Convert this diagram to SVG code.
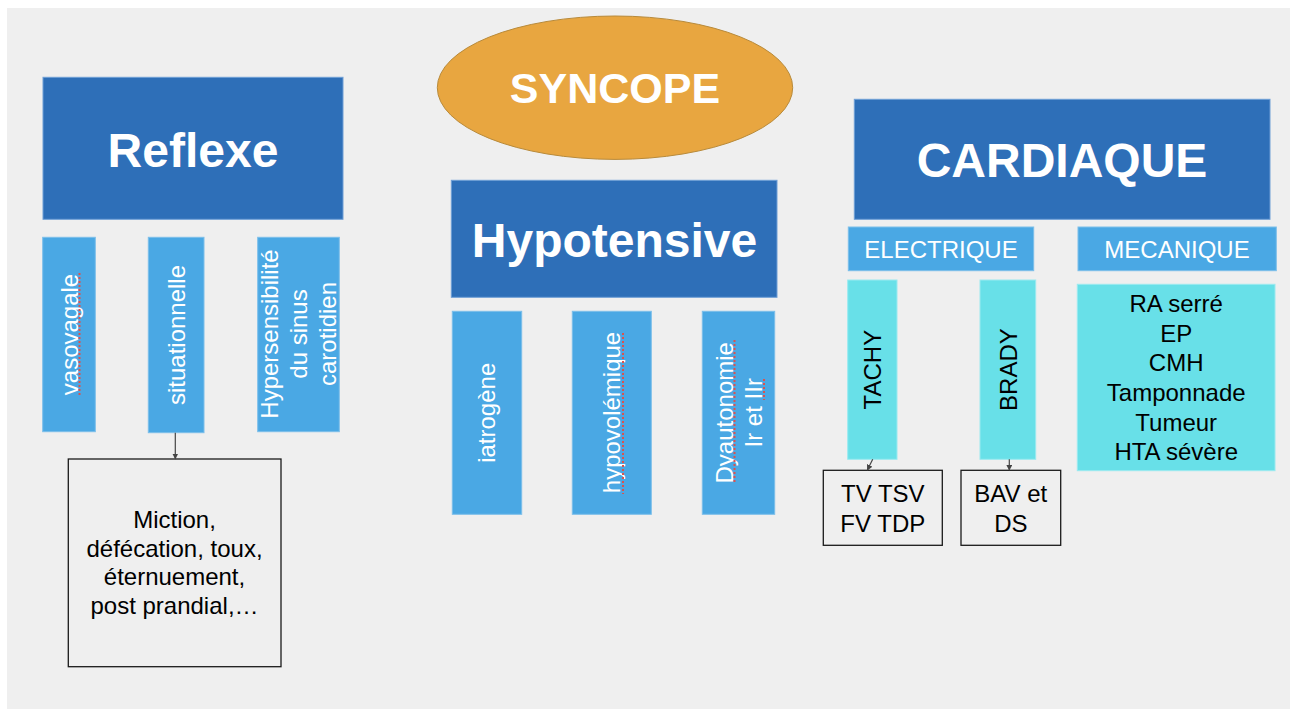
<svg xmlns="http://www.w3.org/2000/svg" width="1290" height="709" viewBox="0 0 1290 709">
<defs>
<style>
.dark{fill:#2e6fb8;stroke:#6f9fd6;stroke-width:1}
.mid{fill:#4aa8e4;stroke:#7cbfea;stroke-width:1}
.cyan{fill:#68e0e8;stroke:#9aeaf0;stroke-width:1}
.plain{fill:#efefef;stroke:#1a1a1a;stroke-width:1.3}
text{font-family:"Liberation Sans",Arial,sans-serif}
.big{font-size:48px;font-weight:bold;fill:#fff;text-anchor:middle}
.w24{font-size:24px;fill:#fff;text-anchor:middle}
.b24{font-size:24px;fill:#000;text-anchor:middle}
.conn{stroke:#444;stroke-width:1.2;fill:none}
.sq{stroke:#d9534f;stroke-width:2;stroke-dasharray:2 2;fill:none}
</style>
<marker id="arr" markerWidth="6" markerHeight="6" refX="5" refY="3" orient="auto" markerUnits="userSpaceOnUse">
<path d="M0,0 L6,3 L0,6 z" fill="#444"/>
</marker>
</defs>
<rect x="0" y="0" width="1290" height="709" fill="#ffffff"/>
<rect x="7" y="8" width="1283" height="701" fill="#efefef"/>

<g id="syncope">
<ellipse cx="615" cy="87.7" rx="177.7" ry="71.7" fill="#e8a640" stroke="#b88a3a" stroke-width="1"/>
<text x="615" y="103.3" style="font-size:43px;font-weight:bold;fill:#fff;text-anchor:middle">SYNCOPE</text>
</g>

<g id="reflexe">
<rect class="dark" x="43" y="77.3" width="300" height="142"/>
<text class="big" x="193" y="166.7">Reflexe</text>
</g>
<g id="vasovagale">
<rect class="mid" x="42.7" y="237.3" width="52.6" height="194.4"/>
<text class="w24" transform="translate(78,334.5) rotate(-90)">vasovagale</text>
<line class="sq" x1="79.5" y1="273" x2="79.5" y2="396"/>
</g>
<g id="situationnelle">
<rect class="mid" x="148.3" y="237.3" width="55.7" height="195.4"/>
<text class="w24" transform="translate(184.5,335) rotate(-90)">situationnelle</text>
</g>
<g id="hypersensibilite">
<rect class="mid" x="257.7" y="237.3" width="81.6" height="194.4"/>
<text class="w24" transform="translate(278,334) rotate(-90)">Hypersensibilité</text>
<text class="w24" transform="translate(307,334) rotate(-90)">du sinus</text>
<text class="w24" transform="translate(336,334) rotate(-90)">carotidien</text>
</g>
<g id="miction">
<rect class="plain" x="68.3" y="459" width="212.7" height="207.7"/>
<text class="b24" x="174.5" y="528.3">Miction,</text>
<text class="b24" x="174.5" y="556.8">défécation, toux,</text>
<text class="b24" x="174.5" y="585.2">éternuement,</text>
<text class="b24" x="174.5" y="613.6">post prandial,…</text>
</g>

<g id="hypotensive">
<rect class="dark" x="451.3" y="180.3" width="325.7" height="117"/>
<text class="big" x="614.5" y="257.3">Hypotensive</text>
</g>
<g id="iatrogene">
<rect class="mid" x="452.3" y="311.3" width="69.4" height="203"/>
<text class="w24" transform="translate(495,412.8) rotate(-90)">iatrogène</text>
</g>
<g id="hypovolemique">
<rect class="mid" x="572.3" y="311.3" width="79" height="203"/>
<text class="w24" transform="translate(620,412.5) rotate(-90)">hypovolémique</text>
<line class="sq" x1="623" y1="333" x2="623" y2="494"/>
</g>
<g id="dyautonomie">
<rect class="mid" x="702.3" y="311.3" width="72.4" height="203"/>
<text class="w24" transform="translate(733,412.8) rotate(-90)">Dyautonomie</text>
<text class="w24" transform="translate(762,412.8) rotate(-90)">Ir et IIr</text>
<line class="sq" x1="734.5" y1="340" x2="734.5" y2="483"/>
<line class="sq" x1="764" y1="379" x2="764" y2="400"/>
</g>

<g id="cardiaque">
<rect class="dark" x="854.3" y="99.3" width="415.7" height="120"/>
<text class="big" x="1062" y="177.3">CARDIAQUE</text>
</g>
<g id="electrique">
<rect class="mid" x="848.3" y="227" width="185.4" height="43.7"/>
<text class="w24" x="941" y="258.3">ELECTRIQUE</text>
</g>
<g id="mecanique">
<rect class="mid" x="1078" y="227" width="198.3" height="43.7"/>
<text class="w24" x="1177" y="258.3">MECANIQUE</text>
</g>
<g id="tachy">
<rect class="cyan" x="847.7" y="280" width="49.3" height="179.3"/>
<text class="b24" transform="translate(881,369.6) rotate(-90)">TACHY</text>
</g>
<g id="brady">
<rect class="cyan" x="980" y="280" width="55.7" height="179.3"/>
<text class="b24" transform="translate(1016.5,369.6) rotate(-90)">BRADY</text>
</g>
<g id="tvtsv">
<rect class="plain" x="823.3" y="470.3" width="119" height="75"/>
<text class="b24" x="882.8" y="501.7">TV TSV</text>
<text class="b24" x="882.8" y="531.7">FV TDP</text>
</g>
<g id="bav">
<rect class="plain" x="961" y="470.3" width="99.7" height="75"/>
<text class="b24" x="1010.8" y="501.7">BAV et</text>
<text class="b24" x="1010.8" y="531.7">DS</text>
</g>
<g id="mecalist">
<rect class="cyan" x="1077.3" y="284.3" width="197.7" height="186.4"/>
<text class="b24" x="1176.2" y="311.7">RA serré</text>
<text class="b24" x="1176.2" y="341.5">EP</text>
<text class="b24" x="1176.2" y="371.2">CMH</text>
<text class="b24" x="1176.2" y="401">Tamponnade</text>
<text class="b24" x="1176.2" y="430.7">Tumeur</text>
<text class="b24" x="1176.2" y="460.4">HTA sévère</text>
</g>

<g id="connectors">
<line class="conn" x1="175.3" y1="432.7" x2="175.3" y2="458.5" marker-end="url(#arr)"/>
<line class="conn" x1="872.7" y1="459.3" x2="867.5" y2="469.8" marker-end="url(#arr)"/>
<line class="conn" x1="1009.3" y1="459.3" x2="1009.3" y2="469.8" marker-end="url(#arr)"/>
</g>
</svg>
